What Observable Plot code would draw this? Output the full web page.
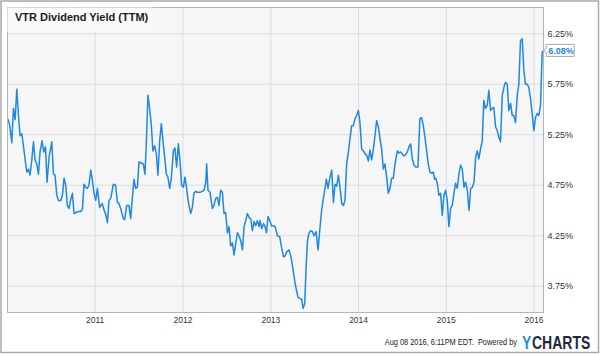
<!DOCTYPE html>
<html><head><meta charset="utf-8">
<script src="https://cdn.jsdelivr.net/npm/d3@7"></script>
<script src="https://cdn.jsdelivr.net/npm/@observablehq/plot@0.6"></script>
<style>html,body{margin:0;padding:0;background:#fff}svg{display:block}</style>
</head><body><div id="chart"></div>
<script>
const title = "VTR Dividend Yield (TTM)";
const footerText = "Aug 08 2016, 6:11PM EDT.  Powered by";
const brandY = "Y";
const brandRest = "CHARTS";
const yTicks = [3.75, 4.25, 4.75, 5.25, 5.75, 6.25];
const xTickYears = [2011, 2012, 2013, 2014, 2015, 2016];
const xDomainYears = [2010.0, 2016.108];
const yDomain = [3.49, 6.51];

// decimal-year dates
const years = [
2010.007,2010.026,2010.049,2010.068,2010.087,2010.106,2010.125,2010.144,2010.163,2010.182,
2010.200,2010.220,2010.239,2010.257,2010.277,2010.296,2010.314,2010.334,2010.353,2010.371,
2010.394,2010.413,2010.433,2010.451,2010.474,2010.505,2010.524,2010.542,2010.562,2010.581,
2010.607,2010.626,2010.645,2010.664,2010.683,2010.702,2010.721,2010.740,2010.759,2010.781,
2010.804,2010.835,2010.854,2010.872,2010.892,2010.911,2010.929,2010.949,2010.968,2010.986,
2011.006,2011.025,2011.051,2011.080,2011.103,2011.120,2011.139,2011.157,2011.177,2011.207,
2011.233,2011.253,2011.271,2011.290,2011.321,2011.336,2011.359,2011.385,2011.404,2011.424,
2011.442,2011.461,2011.481,2011.499,2011.526,2011.549,2011.567,2011.583,2011.601,2011.621,
2011.640,2011.658,2011.678,2011.697,2011.715,2011.735,2011.754,2011.772,2011.792,2011.811,
2011.829,2011.849,2011.868,2011.891,2011.909,2011.928,2011.948,2011.966,2011.985,2012.005,
2012.023,2012.042,2012.062,2012.088,2012.107,2012.125,2012.145,2012.164,2012.194,2012.216,2012.239,
2012.259,2012.270,2012.285,2012.308,2012.335,2012.353,2012.372,2012.392,2012.410,2012.429,
2012.449,2012.467,2012.486,2012.506,2012.524,2012.543,2012.563,2012.581,2012.600,2012.620,
2012.638,2012.657,2012.677,2012.695,2012.714,2012.733,2012.752,2012.771,2012.790,2012.809,
2012.828,2012.847,2012.866,2012.877,2012.896,2012.916,2012.934,2012.950,2012.968,2012.987,
2013.007,2013.030,2013.048,2013.075,2013.101,2013.121,2013.144,2013.162,2013.181,2013.207,
2013.227,2013.249,2013.272,2013.292,2013.310,2013.333,2013.352,2013.367,2013.386,2013.401,
2013.417,2013.432,2013.454,2013.474,2013.492,2013.515,2013.538,2013.557,2013.576,2013.595,
2013.614,2013.633,2013.651,2013.674,2013.694,2013.713,2013.731,2013.751,2013.770,2013.788,
2013.808,2013.827,2013.845,2013.864,2013.884,2013.902,2013.921,2013.941,2013.959,2013.978,
2013.998,2014.016,2014.035,2014.055,2014.073,2014.092,2014.112,2014.130,2014.149,2014.169,
2014.187,2014.206,2014.226,2014.244,2014.263,2014.282,2014.301,2014.320,2014.339,2014.358,
2014.377,2014.396,2014.415,2014.442,2014.460,2014.479,2014.499,2014.517,2014.536,2014.556,
2014.574,2014.593,2014.613,2014.631,2014.651,2014.677,2014.699,2014.719,2014.738,2014.756,
2014.776,2014.795,2014.813,2014.832,2014.852,2014.866,2014.881,2014.897,2014.916,2014.935,
2014.954,2014.973,2014.992,2015.011,2015.030,2015.049,2015.068,2015.087,2015.106,2015.125,
2015.144,2015.163,2015.182,2015.202,2015.220,2015.240,2015.259,2015.278,2015.297,2015.316,
2015.335,2015.353,2015.371,2015.391,2015.410,2015.428,2015.447,2015.467,2015.485,2015.505,
2015.524,2015.542,2015.562,2015.581,2015.599,2015.618,2015.638,2015.657,2015.675,2015.695,
2015.713,2015.733,2015.752,2015.770,2015.789,2015.809,2015.827,2015.846,2015.866,2015.884,
2015.903,2015.923,2015.941,2015.960,2015.979,2015.998,2016.017,2016.036,2016.055,2016.074,
2016.093,2016.105
];

// dividend yield (%)
const yields = [
5.40,5.34,5.17,5.51,5.40,5.70,5.44,5.24,5.26,5.14,
5.01,4.88,4.91,4.85,5.00,5.18,5.00,4.96,4.86,5.08,
5.19,5.08,5.13,4.78,5.03,5.18,4.86,4.85,4.65,4.60,
4.60,4.65,4.82,4.75,4.55,4.52,4.61,4.67,4.47,4.48,
4.49,4.49,4.51,4.76,4.73,4.72,4.75,4.90,4.80,4.67,
4.60,4.72,4.53,4.57,4.50,4.46,4.38,4.60,4.62,4.76,
4.75,4.58,4.57,4.52,4.42,4.41,4.55,4.55,4.42,4.63,
4.81,4.72,4.73,4.98,4.97,4.96,4.86,5.16,5.64,5.51,
5.34,5.09,5.14,5.06,4.85,5.19,5.36,5.19,5.03,4.86,
4.83,4.72,4.82,5.09,5.12,4.93,5.16,5.00,4.75,4.73,
4.83,4.72,4.58,4.47,4.53,4.67,4.69,4.68,4.68,4.69,4.70,
4.77,4.96,4.70,4.68,4.52,4.55,4.62,4.63,4.55,4.70,
4.68,4.47,4.48,4.28,4.34,4.15,4.18,4.06,4.17,4.28,
4.25,4.20,4.11,4.34,4.40,4.47,4.43,4.42,4.30,4.39,
4.35,4.40,4.34,4.40,4.32,4.37,4.34,4.28,4.44,4.40,
4.35,4.35,4.34,4.25,4.24,4.14,4.04,4.05,4.09,4.11,
4.05,3.94,3.80,3.71,3.64,3.63,3.62,3.53,3.58,3.92,
4.19,4.27,4.30,4.29,4.25,4.29,4.11,4.30,4.48,4.60,
4.70,4.81,4.72,4.83,4.90,4.58,4.76,4.74,4.85,4.73,
4.57,4.55,4.60,4.96,5.08,5.21,5.34,5.34,5.41,5.44,
5.49,5.37,5.11,5.09,5.06,5.05,4.99,5.10,5.00,5.11,
5.24,5.39,5.33,5.21,5.11,4.91,4.96,4.83,4.67,4.72,
4.82,4.82,4.96,5.09,5.07,5.08,5.06,5.04,5.05,5.08,
5.13,5.16,5.01,4.95,4.93,4.93,5.41,5.42,5.34,5.23,
5.09,4.96,4.88,4.87,4.88,4.81,4.82,4.77,4.65,4.67,
4.45,4.65,4.70,4.60,4.34,4.52,4.55,4.67,4.77,4.72,
4.86,4.95,4.91,4.73,4.78,4.70,4.50,4.72,4.73,4.78,
5.03,5.09,5.01,5.11,5.19,5.59,5.51,5.54,5.69,5.49,
5.51,5.52,5.33,5.29,5.23,5.18,5.64,5.72,5.77,5.75,
5.49,5.56,5.44,5.44,5.37,5.64,5.75,6.18,6.20,5.89,
5.75,5.75,5.72,5.61,5.46,5.29,5.42,5.46,5.44,5.54,
6.07,6.08
];

function toDate(y) {
  const yr = Math.floor(y);
  const a = Date.UTC(yr, 0, 1), b = Date.UTC(yr + 1, 0, 1);
  return new Date(a + (y - yr) * (b - a));
}
const n = Math.min(years.length, yields.length);
const data = d3.range(n).map(i => ({date: toDate(years[i]), value: yields[i]}));
const last = data[data.length - 1];
const xTicks = xTickYears.map(y => new Date(Date.UTC(y, 0, 1)));

const font = "'Liberation Sans', Arial, Helvetica, sans-serif";
const lineColor = "#1e88e5";

const plot = Plot.plot({
  width: 600, height: 354,
  marginLeft: 7, marginRight: 57, marginTop: 7, marginBottom: 42,
  style: {fontFamily: font, background: "#fff", overflow: "visible"},
  x: {type: "utc", domain: xDomainYears.map(toDate)},
  y: {domain: yDomain},
  marks: [
    Plot.frame({fill: "#f6f6f6", stroke: null}),
    Plot.gridX(xTicks, {stroke: "#dddddd", strokeOpacity: 1, strokeWidth: 1}),
    Plot.gridY(yTicks, {stroke: "#dddddd", strokeOpacity: 1, strokeWidth: 1}),
    Plot.axisX(xTicks, {tickSize: 0, tickPadding: 4, tickFormat: d => String(d.getUTCFullYear()), fontSize: 8.5, fill: "#333", label: null}),
    Plot.axisY(yTicks, {anchor: "right", tickSize: 0, tickPadding: 4, tickFormat: d => d.toFixed(2) + "%", fontSize: 9, fill: "#333", label: null}),
    Plot.line(data, {x: "date", y: "value", stroke: lineColor, strokeWidth: 1.5, strokeLinejoin: "round"}),
    Plot.frame({stroke: "#b4b4b4", strokeWidth: 1})
  ]
});

const svg = d3.select(plot);
const sx = plot.scale("x"), sy = plot.scale("y");
const x0 = sx.range[0], y0 = Math.min(sy.range[0], sy.range[1]);

// title box + title
const tg = svg.append("g").attr("text-anchor", "start");
tg.append("rect").attr("x", x0 + 0.5).attr("y", y0 + 0.5).attr("width", 145).attr("height", 24.5).attr("fill", "#fafafa");
tg.append("text").attr("text-anchor", "start").attr("x", x0 + 8).attr("y", y0 + 14).attr("font-family", font).attr("font-size", 11)
  .attr("font-weight", "bold").attr("fill", "#1a1a1a").text(title);

// last value label
const px = sx.apply(last.date), py = sy.apply(last.value);
const bx = px + 3.5, bw = 28, bh = 12;
const lg = svg.append("g").attr("text-anchor", "start");
lg.append("path")
  .attr("d", `M${bx},${py - bh/2} H${bx + bw} V${py + bh/2} H${bx} V${py + 2} L${bx - 3},${py} L${bx},${py - 2} Z`)
  .attr("fill", "#fff").attr("stroke", "#aaa").attr("stroke-width", 1);
lg.append("text").attr("text-anchor", "start").attr("x", bx + 2).attr("y", py + 3.3).attr("font-family", font).attr("font-size", 9)
  .attr("font-weight", "bold").attr("fill", lineColor).text(last.value.toFixed(2) + "%");

// footer
const fg = svg.append("g").attr("text-anchor", "start");
fg.append("text").attr("text-anchor", "end").attr("transform", "translate(517,345) scale(1,1.15)")
  .attr("font-family", font).attr("font-size", 7.4).attr("fill", "#222").text(footerText);
const brand = fg.append("g").attr("transform", "translate(522,349) scale(1,1.25)");
brand.append("text").attr("text-anchor", "start").attr("x", 0).attr("y", 0).attr("font-family", font).attr("font-size", 14)
  .attr("font-weight", "bold").attr("fill", "#1e8fe0").text(brandY);
brand.append("text").attr("text-anchor", "start").attr("x", 10).attr("y", 0).attr("font-family", font).attr("font-size", 14)
  .attr("font-weight", "bold").attr("fill", "#1c2b3b").text(brandRest);

// outer border
svg.append("rect").attr("x", 1).attr("y", 1).attr("width", 597.5).attr("height", 351.5)
  .attr("fill", "none").attr("stroke", "#a9a9a9").attr("stroke-width", 1.5);

document.getElementById("chart").appendChild(plot);
</script>
</body></html>
